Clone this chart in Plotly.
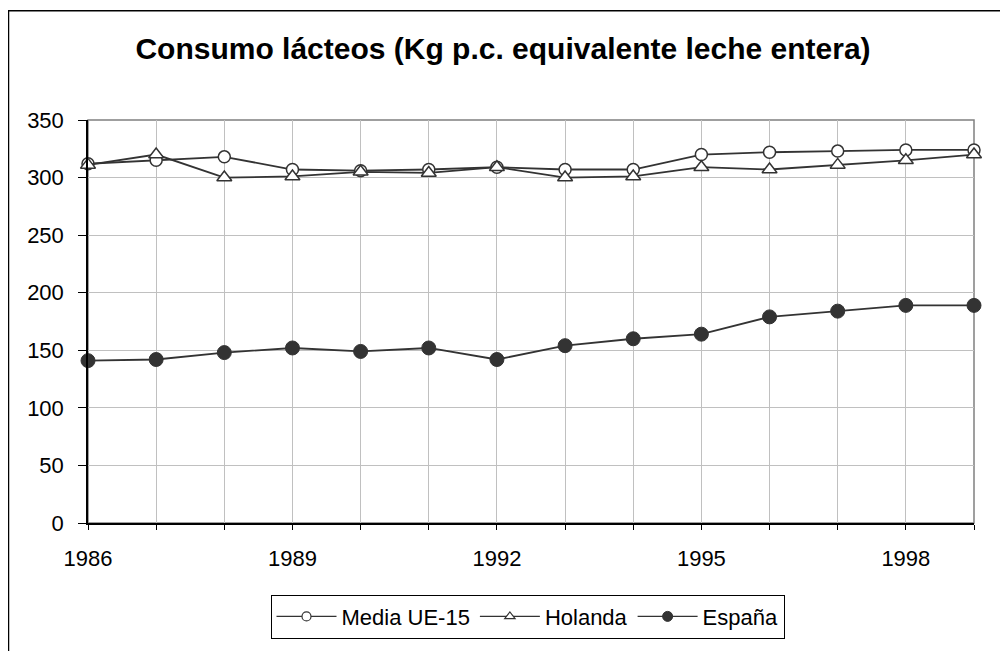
import plotly.graph_objects as go

years = list(range(1986, 2000))
media_ue15 = [312, 315, 318, 307, 306, 307, 309, 307, 307, 320, 322, 323, 324, 324]
holanda = [311, 320, 300, 301, 305, 304, 309, 300, 301, 309, 307, 311, 315, 320]
espana = [141, 142, 148, 152, 149, 152, 142, 154, 160, 164, 179, 184, 189, 189]
names = ["Media UE-15", "Holanda", "España"]

line_color = "#333333"
FONT = "Liberation Sans, Arial, sans-serif"

# page offset (body margin) of the html page
OFF = 8
W, H = 1000, 643
# plot area in page pixels
PL, PR, PT, PB = 88, 974, 120, 531
L, R, T, B = PL - OFF, W - (PR - OFF), PT - OFF, H - (PB - OFF)
pw, ph = W - L - R, H - T - B


def px_x(x):
    return (x - OFF - L) / pw


def px_y(y):
    return (PB - y) / ph


styles = [
    dict(symbol="circle", size=12, color="white", line=dict(color=line_color, width=1.5)),
    dict(symbol="triangle-up", size=13, color="white", line=dict(color=line_color, width=1.5)),
    dict(symbol="circle", size=14, color=line_color, line=dict(color=line_color, width=1)),
]
legend_styles = [
    dict(symbol="circle", size=9, color="white", line=dict(color=line_color, width=1.2)),
    dict(symbol="triangle-up", size=9, color="white", line=dict(color=line_color, width=1.2)),
    dict(symbol="circle", size=10, color=line_color, line=dict(color=line_color, width=1)),
]

fig = go.Figure()
for name, vals, st in zip(names, [media_ue15, holanda, espana], styles):
    fig.add_trace(go.Scatter(x=years, y=vals, name=name, mode="lines+markers",
                             line=dict(color=line_color, width=1.8), marker=st,
                             cliponaxis=False, showlegend=False))
for name, st in zip(names, legend_styles):
    fig.add_trace(go.Scatter(x=[None], y=[None], name=name, mode="lines+markers",
                             line=dict(color=line_color, width=1.2), marker=st,
                             showlegend=True))

fig.update_layout(
    width=W, height=H,
    margin=dict(l=L, r=R, t=T, b=B),
    paper_bgcolor="white", plot_bgcolor="white",
    font=dict(family=FONT, size=22, color="black"),
    title=dict(text="<b>Consumo lácteos (Kg p.c. equivalente leche entera)</b>",
               x=(503 - OFF) / W, xanchor="center", y=1 - (48 - OFF) / H, yanchor="middle",
               font=dict(size=30, color="black")),
    showlegend=True,
    legend=dict(orientation="h", x=px_x(527.5), xanchor="center", y=px_y(604), yanchor="top",
                bordercolor="black", borderwidth=1, bgcolor="white",
                font=dict(size=22), itemwidth=60, tracegroupgap=0),
    xaxis=dict(range=[1986, 1999], tickmode="linear", tick0=1986, dtick=3,
               showgrid=True, gridcolor="#c0c0c0", gridwidth=1,
               minor=dict(dtick=1, tick0=1986, showgrid=True, gridcolor="#c0c0c0",
                          ticks="outside", ticklen=5, tickcolor="black"),
               ticks="outside", ticklen=5, tickcolor="black",
               showline=True, linecolor="black", linewidth=1.5,
               zeroline=False, ticklabelstandoff=10),
    yaxis=dict(range=[0, 350], tickmode="linear", tick0=0, dtick=50,
               showgrid=True, gridcolor="#c0c0c0", gridwidth=1,
               ticks="outside", ticklen=8, tickcolor="black",
               showline=True, linecolor="black", linewidth=1.5,
               zeroline=False, ticklabelstandoff=10),
    shapes=[
        dict(type="rect", xref="paper", yref="paper", x0=0, x1=1, y0=0, y1=1,
             line=dict(color="#808080", width=1.5), layer="below"),
        dict(type="rect", xref="paper", yref="paper",
             x0=px_x(8.5), x1=px_x(1003.5), y0=px_y(670), y1=px_y(8.5),
             line=dict(color="black", width=1.5), layer="below"),
    ],
)

fig.write_html("out.html")
